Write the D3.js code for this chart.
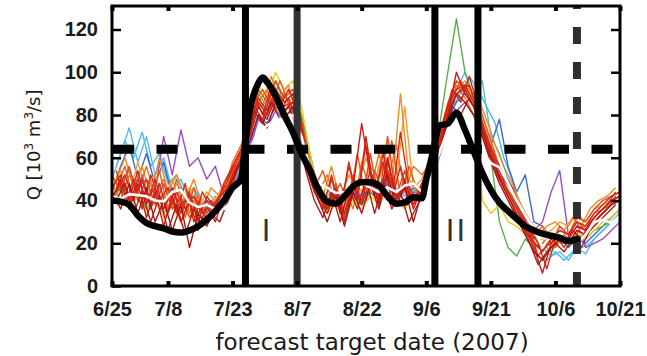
<!DOCTYPE html>
<html>
<head>
<meta charset="utf-8">
<script src="https://cdn.jsdelivr.net/npm/d3@7"></script>
<style>
  body { margin: 0; background: #fff; }
  svg { display: block; font-family: 'DejaVu Sans', sans-serif; }
</style>
</head>
<body>
<div id="chart"></div>
<script>
// ---- data ----
const startDate = new Date(2007, 5, 25);
const endDate = new Date(2007, 9, 21);
const tickLabels = ['6/25', '7/8', '7/23', '8/7', '8/22', '9/6', '9/21', '10/6', '10/21'];
const tickDates = [
  new Date(2007, 5, 25), new Date(2007, 6, 8), new Date(2007, 6, 23),
  new Date(2007, 7, 7), new Date(2007, 7, 22), new Date(2007, 8, 6),
  new Date(2007, 8, 21), new Date(2007, 9, 6), new Date(2007, 9, 21)
];
const yTicks = [0, 20, 40, 60, 80, 100, 120];
const threshold = 64;
const eventLines = [new Date(2007, 6, 26), new Date(2007, 7, 7), new Date(2007, 8, 8), new Date(2007, 8, 18)];
const eventLineColors = ['#000', '#333', '#000', '#000'];
const issueDate = new Date(2007, 9, 11);
const eventNames = ['I', 'II'];
const eventNameDates = [new Date(2007, 6, 31), new Date(2007, 8, 13)];

// observed discharge (days after 6/25)
const obsDays = [0, 2, 4, 6, 8, 10, 12, 14, 16, 18, 20, 22, 24, 26, 28, 30, 31, 32, 34, 35, 36,
  38, 40, 42, 44, 46, 48, 50, 52, 54, 56, 58, 60, 62, 64, 66, 68, 70, 72, 73, 74, 75, 76,
  78, 80, 82, 84, 86, 88, 90, 92, 94, 96, 98, 100, 102, 104, 106, 108];
const obsQ = [40, 39.5, 38, 33, 29.5, 28, 27, 25.5, 25, 26, 28, 31, 35, 40, 46, 50, 68, 82, 95, 97.5, 95.5,
  89, 80, 72, 62, 54, 45, 39.5, 38.5, 42, 46.5, 48.5, 48.5, 47, 42, 38.5, 39, 41.5, 41, 50, 58, 67, 75,
  76, 81, 73, 63, 53, 45, 39, 35, 31.5, 28, 26, 24.5, 23.5, 22.5, 21, 22];

// ensemble forecasts: even-day members (from 6/25) and odd-day members (from 6/26)
const evenDays = d3.range(0, 119, 2);
const oddDays = d3.range(1, 118, 2);

const ensMean = [42, 40.6, 43, 42.5, 42, 40, 39.5, 44, 45, 39, 37, 38, 36, 36, 40,
  46, 64, 72, 75, 77.6, 78.5, 80, 70, 55,
  48, 46, 43.5, 44, 45.5, 48, 46, 44, 46, 44, 47, 48, 44,
  50, 62, 73, 82, 75, 70, 63, 57.5, 55.5, 48,
  40, 33, 27, 18, 24, 24, 21.5, 20, 24, 30, 31, 29.5, 33];

const memLightBlue = [50, 62, 74, 58, 70, 52, 60, 45, 50, 40, 44, 36, 42, 38, 48,
  58, 70, 84, 78, 88, 82, 86, 78, 60,
  46, 40, 44, 38, 48, 42, 50, 44, 52, 46, 42, 48, 45,
  54, 66, 80, 92, 100, 88, 96, 70, 62, 50,
  42, 34, 24, 18, 14, 16, 12, 18, 15, 22, 26, 30, 34];
const memBlue = [44, 56, 66, 50, 62, 48, 58, 42, 46, 38, 42, 34, 40, 36, 44,
  55, 66, 80, 76, 84, 80, 82, 74, 58,
  44, 38, 42, 36, 44, 40, 46, 42, 48, 44, 40, 46, 44,
  52, 64, 78, 86, 90, 84, 76, 66, 78, 56,
  44, 52, 30, 28, 22, 24, 18, 22, 20, 24, 28, 32, 36];
const memPurple = [42, 48, 54, 46, 50, 44, 70, 52, 73, 56, 60, 50, 56, 42, 46,
  55, 64, 78, 74, 82, 78, 80, 72, 56,
  42, 36, 40, 34, 42, 38, 44, 40, 46, 42, 38, 44, 42,
  50, 60, 74, 82, 86, 80, 72, 64, 56, 48,
  40, 32, 26, 30, 44, 54, 24, 30, 18, 20, 22, 26, 30];
const memGreen = [40, 46, 38, 44, 36, 42, 34, 40, 36, 42, 34, 38, 36, 42, 48,
  60, 72, 90, 84, 96, 86, 90, 80, 62,
  44, 38, 40, 34, 42, 38, 44, 40, 46, 42, 38, 44, 46,
  58, 74, 100, 125, 100, 88, 74, 60, 30, 18,
  14, 22, 18, 20, 16, 22, 20, 24, 22, 26, 28, 30, 34];
const memYellow = [38, 44, 36, 42, 34, 40, 32, 38, 30, 36, 32, 38, 34, 40, 46,
  62, 76, 94, 88, 100, 92, 96, 84, 62,
  40, 34, 38, 32, 40, 36, 42, 38, 44, 40, 36, 42, 42,
  56, 68, 86, 90, 94, 86, 40, 34, 38, 30,
  28, 24, 20, 22, 18, 24, 20, 26, 22, 26, 30, 32, 36];
const memLightOrange = [46, 54, 42, 58, 44, 52, 40, 50, 38, 46, 36, 44, 40, 48, 56,
  64, 74, 88, 80, 92, 84, 88, 76, 58,
  48, 40, 46, 36, 50, 44, 56, 50, 60, 48, 84, 46, 50,
  60, 70, 84, 92, 96, 88, 80, 66, 56, 48,
  40, 34, 28, 24, 26, 30, 28, 34, 30, 36, 38, 40, 42];
const memOrange = [48, 40, 52, 44, 56, 42, 50, 38, 46, 34, 42, 32, 40, 44, 58,
  66, 78, 86, 92, 82, 90, 80, 70, 54,
  44, 52, 38, 46, 36, 58, 44, 62, 48, 66, 44, 56, 52,
  58, 68, 82, 94, 88, 80, 70, 58, 50, 44,
  36, 30, 24, 28, 22, 26, 24, 30, 28, 34, 36, 38, 40];
const memRedOrange = [52, 44, 56, 40, 50, 38, 48, 36, 42, 32, 40, 30, 38, 46, 54,
  62, 74, 92, 86, 96, 88, 92, 78, 56,
  46, 36, 48, 32, 52, 38, 62, 40, 70, 42, 54, 38, 48,
  56, 66, 84, 96, 92, 84, 76, 64, 54, 44,
  38, 30, 22, 26, 20, 28, 24, 32, 30, 36, 40, 42, 44];
const memCrimson = [46, 52, 40, 54, 38, 50, 36, 46, 34, 44, 30, 42, 36, 48, 56,
  64, 76, 88, 82, 92, 86, 90, 76, 54,
  44, 38, 46, 34, 48, 40, 54, 42, 58, 44, 48, 40, 48,
  56, 66, 84, 92, 94, 86, 76, 62, 52, 44,
  36, 28, 20, 16, 22, 26, 24, 30, 28, 34, 38, 42, 44];
const memRed = [42, 48, 38, 50, 40, 46, 36, 44, 38, 42, 34, 40, 38, 44, 50,
  60, 72, 86, 80, 90, 84, 86, 74, 54,
  42, 36, 44, 34, 46, 38, 50, 40, 54, 42, 46, 38, 46,
  54, 64, 80, 90, 92, 84, 74, 60, 50, 42,
  34, 26, 20, 18, 20, 24, 22, 28, 26, 32, 36, 40, 42];
const memRed2 = [40, 50, 36, 48, 32, 44, 28, 42, 30, 40, 26, 38, 30, 42, 52,
  60, 70, 84, 78, 88, 82, 86, 72, 52,
  42, 34, 44, 30, 46, 76, 52, 38, 60, 40, 50, 36, 46,
  54, 64, 80, 100, 90, 84, 72, 60, 50, 42,
  34, 26, 18, 6, 20, 24, 22, 28, 26, 32, 36, 40, 42];
const memDarkRed = [44, 36, 48, 34, 46, 30, 40, 26, 38, 18, 34, 28, 36, 40, 50,
  58, 68, 80, 74, 86, 78, 84, 70, 50,
  40, 30, 42, 28, 44, 34, 48, 36, 52, 38, 46, 30, 44,
  52, 62, 78, 90, 86, 80, 70, 58, 48, 40,
  32, 24, 16, 12, 18, 22, 20, 26, 24, 30, 34, 38, 40];

// odd-day members
const oddCyan = [56, 68, 60, 72, 56, 62, 48, 52, 42, 46, 38, 40, 36, 44, 52,
  60, 80, 76, 86, 80, 84, 78, 62,
  46, 40, 44, 38, 46, 40, 48, 44, 50, 44, 42, 46, 44, 48,
  56, 70, 84, 90, 98, 92, 84, 76, 60, 50,
  30, 20, 14, 12, 16, 12, 16, 18, 20, 24, 28, 32];
const oddAmber = [50, 60, 46, 56, 42, 60, 44, 52, 40, 50, 36, 46, 42, 48, 60,
  68, 88, 84, 98, 88, 94, 80, 60,
  50, 42, 56, 40, 52, 46, 60, 48, 64, 46, 90, 50, 44, 52,
  60, 76, 90, 94, 92, 88, 78, 66, 56, 48,
  38, 30, 24, 28, 30, 26, 32, 28, 36, 40, 42, 46];
const oddOrangeRed = [46, 56, 40, 52, 38, 54, 36, 50, 32, 46, 30, 40, 38, 46, 58,
  70, 86, 92, 84, 96, 86, 78, 58,
  46, 54, 40, 48, 38, 62, 40, 54, 44, 68, 42, 56, 44, 50,
  58, 74, 88, 96, 90, 86, 74, 62, 48, 42,
  32, 24, 18, 22, 18, 24, 20, 28, 26, 32, 36, 40];
const oddRed = [44, 52, 40, 50, 36, 48, 34, 44, 36, 42, 34, 38, 36, 44, 56,
  64, 84, 78, 90, 82, 88, 76, 56,
  44, 36, 52, 34, 58, 40, 70, 42, 62, 40, 56, 40, 42, 50,
  60, 74, 86, 92, 94, 82, 70, 58, 50, 44,
  34, 26, 20, 8, 22, 20, 26, 22, 28, 32, 36, 42];
const oddScarlet = [54, 38, 50, 36, 52, 40, 46, 34, 48, 30, 44, 36, 42, 50, 60,
  66, 90, 80, 94, 84, 92, 82, 62,
  52, 38, 50, 36, 56, 42, 66, 44, 58, 40, 72, 46, 40, 54,
  62, 78, 92, 86, 98, 84, 70, 60, 52, 46,
  36, 26, 14, 20, 24, 18, 26, 22, 30, 34, 38, 44];
const oddDarkRed = [40, 48, 34, 44, 30, 42, 26, 38, 24, 36, 28, 34, 30, 40, 54,
  62, 82, 76, 86, 78, 84, 74, 54,
  40, 32, 44, 30, 46, 36, 50, 34, 48, 36, 44, 30, 38, 46,
  56, 70, 84, 80, 88, 80, 66, 56, 46, 38,
  28, 20, 10, 16, 20, 16, 22, 18, 26, 30, 34, 38];

// drawing order: cool colours underneath, reds on top
const members = [oddCyan, memLightBlue, memBlue, memPurple, memGreen, memYellow,
  memLightOrange, oddAmber, memOrange, oddOrangeRed, memRedOrange, memCrimson,
  oddRed, memRed, oddScarlet, memRed2, oddDarkRed, memDarkRed];
const memberColors = ['#3cbfe2', '#5ab8e8', '#3b68d0', '#9a4cc2', '#5aae48', '#f0c81e',
  '#f5a02c', '#f08a24', '#ec7420', '#e85a1a', '#e2461c', '#c82a20',
  '#cc2a1e', '#dc2418', '#d82818', '#cc1c14', '#b41a16', '#a81414'];

// ---- chart ----
const margin = { top: 6, right: 27, bottom: 70, left: 112 };
const width = 647 - margin.left - margin.right;
const height = 356 - margin.top - margin.bottom;

const svg = d3.select('#chart')
  .append('svg')
  .attr('width', 647)
  .attr('height', 356)
  .append('g')
  .attr('transform', `translate(${margin.left}, ${margin.top})`);

const dayToDate = d => d3.timeDay.offset(startDate, d);

const x = d3.scaleTime()
  .domain([startDate, endDate])
  .range([0, width]);

const y = d3.scaleLinear()
  .domain([0, 131])
  .range([height, 0]);

svg.append('clipPath')
  .attr('id', 'plot-clip')
  .append('rect')
  .attr('width', width)
  .attr('height', height);

const plot = svg.append('g').attr('clip-path', 'url(#plot-clip)');

//ensemble members
const lineFor = days => d3.line()
  .x((d, i) => x(dayToDate(days[i])))
  .y(d => y(d));

plot.selectAll('.member')
  .data(members)
  .join('path')
  .attr('class', 'member')
  .attr('fill', 'none')
  .attr('stroke', (d, i) => memberColors[i])
  .attr('stroke-width', 1.4)
  .attr('stroke-linejoin', 'round')
  .attr('d', d => lineFor(d.length === evenDays.length ? evenDays : oddDays)(d));

//ensemble mean
plot.append('path')
  .datum(ensMean)
  .attr('fill', 'none')
  .attr('stroke', '#fff')
  .attr('stroke-width', 2.6)
  .attr('stroke-linejoin', 'round')
  .attr('d', lineFor(evenDays));

//threshold
plot.append('line')
  .attr('x1', 1)
  .attr('x2', width)
  .attr('y1', y(threshold))
  .attr('y2', y(threshold))
  .attr('stroke', '#000')
  .attr('stroke-width', 9)
  .attr('stroke-dasharray', '21 22.5');

//event boundaries
plot.selectAll('.event')
  .data(eventLines)
  .join('line')
  .attr('class', 'event')
  .attr('x1', d => x(d))
  .attr('x2', d => x(d))
  .attr('y1', 0)
  .attr('y2', height)
  .attr('stroke', (d, i) => eventLineColors[i])
  .attr('stroke-width', 7);

//forecast issue date
plot.append('line')
  .attr('x1', x(issueDate))
  .attr('x2', x(issueDate))
  .attr('y1', 0)
  .attr('y2', height)
  .attr('stroke', '#2e2e2e')
  .attr('stroke-width', 8)
  .attr('stroke-dasharray', '17 18')
  .attr('stroke-dashoffset', 14);

//observed
const obsLine = d3.line()
  .x((d, i) => x(dayToDate(obsDays[i])))
  .y(d => y(d))
  .curve(d3.curveMonotoneX);

plot.append('path')
  .datum(obsQ)
  .attr('fill', 'none')
  .attr('stroke', '#000')
  .attr('stroke-width', 6.5)
  .attr('stroke-linejoin', 'round')
  .attr('stroke-linecap', 'round')
  .attr('d', obsLine);

//event names
svg.selectAll('.event-name')
  .data(eventNames)
  .join('text')
  .attr('class', 'event-name')
  .attr('x', (d, i) => x(eventNameDates[i]))
  .attr('y', y(21))
  .attr('text-anchor', 'middle')
  .attr('fill', '#333')
  .style('font-family', 'Liberation Sans, Arial, sans-serif')
  .style('font-size', '31px')
  .style('letter-spacing', '2px')
  .text(d => d);

//x-axis
svg.append('g')
  .attr('transform', `translate(0, ${height})`)
  .call(d3.axisBottom(x)
    .tickValues(tickDates)
    .tickFormat((d, i) => tickLabels[i])
    .tickSize(-5)
    .tickPadding(16))
  .call(g => g.select('.domain').remove())
  .call(g => g.selectAll('.tick line').attr('stroke', '#000').attr('stroke-width', 4))
  .call(g => g.selectAll('.tick text')
    .attr('fill', '#1a1a1a')
    .style('font-size', '20px')
    .style('font-weight', 'bold'));

//top ticks
svg.append('g')
  .call(d3.axisTop(x).tickValues(tickDates).tickFormat('').tickSize(-5))
  .call(g => g.select('.domain').remove())
  .call(g => g.selectAll('.tick line').attr('stroke', '#000').attr('stroke-width', 4));

//y-axis
svg.append('g')
  .call(d3.axisLeft(y)
    .tickValues(yTicks)
    .tickSize(-9)
    .tickPadding(14))
  .call(g => g.select('.domain').remove())
  .call(g => g.selectAll('.tick line').attr('stroke', '#000').attr('stroke-width', 2.5))
  .call(g => g.selectAll('.tick text')
    .attr('fill', '#1a1a1a')
    .style('font-size', '20px')
    .style('font-weight', 'bold'));

//right ticks
svg.append('g')
  .attr('transform', `translate(${width}, 0)`)
  .call(d3.axisRight(y).tickValues(yTicks.slice(1)).tickFormat('').tickSize(-9))
  .call(g => g.select('.domain').remove())
  .call(g => g.selectAll('.tick line').attr('stroke', '#000').attr('stroke-width', 2.5));

//frame
svg.append('rect')
  .attr('width', width)
  .attr('height', height)
  .attr('fill', 'none')
  .attr('stroke', '#000')
  .attr('stroke-width', 3);

//axis titles
svg.append('text')
  .attr('x', 260)
  .attr('y', 344)
  .attr('text-anchor', 'middle')
  .attr('fill', '#1a1a1a')
  .style('font-size', '23px')
  .text('forecast target date (2007)');

const yTitle = svg.append('text')
  .attr('transform', `translate(${40 - margin.left}, ${y(66)}) rotate(-90)`)
  .attr('text-anchor', 'middle')
  .attr('fill', '#1a1a1a')
  .style('font-size', '18px');
yTitle.append('tspan').text('Q [10');
yTitle.append('tspan').attr('dy', -7).style('font-size', '12px').text('3');
yTitle.append('tspan').attr('dy', 7).text(' m');
yTitle.append('tspan').attr('dy', -7).style('font-size', '12px').text('3');
yTitle.append('tspan').attr('dy', 7).text('/s]');
</script>
</body>
</html>
